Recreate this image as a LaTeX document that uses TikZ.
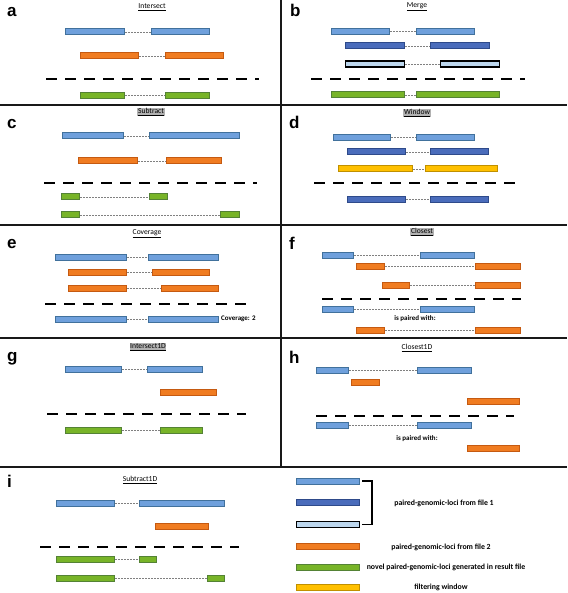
\documentclass[tikz,border=0pt]{standalone}
\usepackage{fontspec}
\setmainfont{Carlito}
\newfontfamily\panelfont{Liberation Sans}
\usetikzlibrary{positioning}

\definecolor{lblue}{HTML}{6FA0DC}
\definecolor{lblueline}{HTML}{41719C}
\definecolor{dblue}{HTML}{4A6CBB}
\definecolor{dblueline}{HTML}{2E4A8A}
\definecolor{pblue}{HTML}{BDD7EE}
\definecolor{oran}{HTML}{F07C21}
\definecolor{oranline}{HTML}{C55A11}
\definecolor{grn}{HTML}{78B428}
\definecolor{grnline}{HTML}{548235}
\definecolor{yell}{HTML}{FFC000}
\definecolor{yellline}{HTML}{C09000}

\tikzset{
    locus/.style={draw, line width=1pt, minimum height=6pt, inner sep=0pt, anchor=west},
    fileA/.style={locus, fill=lblue, draw=lblueline},
    fileAB/.style={locus, fill=dblue, draw=dblueline},
    fileAC/.style={locus, fill=pblue, draw=black, line width=1.1pt},
    fileB/.style={locus, fill=oran, draw=oranline},
    result/.style={locus, fill=grn, draw=grnline},
    window/.style={locus, fill=yell, draw=yellline},
    link/.style={black!50, line width=0.8pt, dash pattern=on 2pt off 1pt},
    cut/.style={line width=2.6pt, dash pattern=on 11pt off 8pt},
    frame/.style={line width=1.6pt, black!90},
    heavyframe/.style={line width=2.6pt, black!90},
    panel/.style={font=\panelfont\bfseries\fontsize{17}{17}\selectfont, anchor=base west, inner sep=0pt},
    title/.style={font=\fontsize{7.6}{9}\selectfont, inner sep=0.6pt},
    shaded/.style={title, fill=black!30},
    note/.style={font=\bfseries\fontsize{7}{8}\selectfont, inner sep=0pt},
    key/.style={font=\bfseries\fontsize{7.8}{9}\selectfont, inner sep=0pt}
}

% one locus: style, name, x from, x to, y
\newcommand{\locus}[5]{\node[#1, minimum width=#4-#3] (#2) at (#3,#5) {};}
% a pair of loci joined by a link: style, name, x1, x2, x3, x4, y
\newcommand{\pairloci}[7]{%
    \locus{#1}{#2l}{#3}{#4}{#7}
    \locus{#1}{#2r}{#5}{#6}{#7}
    \draw[link] (#2l.east) -- (#2r.west);}

\begin{document}
\begin{tikzpicture}[x=1pt, y=-1pt]
    \useasboundingbox (0,0) rectangle (567,593);
    % frames
    \draw[frame] (0,105) -- (567,105);
    \draw[frame] (0,225) -- (567,225);
    \draw[heavyframe] (0,338) -- (567,338);
    \draw[heavyframe] (0,467) -- (567,467);
    \draw[frame] (281,0) -- (281,467);
    % a
    \node[panel] (la) at (7,17) {a};
    \node[title] (ta) at (152,7) {\underline{Intersect}};
    \pairloci{fileA}{a1}{65}{124}{151}{209}{32}
    \pairloci{fileB}{a2}{80}{138}{165}{223}{56}
    \draw[cut] (46,79) -- (259,79);
    \pairloci{result}{a3}{80}{124}{165}{209}{95.5}
    % b
    \node[panel] (lb) at (290,17) {b};
    \node[title] (tb) at (417,7) {\underline{Merge}};
    \pairloci{fileA}{b1}{331}{389}{416}{474}{31.5}
    \pairloci{fileAB}{b2}{345}{404}{430}{489}{46}
    \pairloci{fileAC}{b3}{345}{404}{440}{499}{64}
    \draw[cut] (311,79) -- (525,79);
    \pairloci{result}{b4}{331}{404}{416}{499}{95}
    % c
    \node[panel] (lc) at (7,129) {c};
    \node[shaded] (tc) at (151,112) {\underline{Subtract}};
    \pairloci{fileA}{c1}{62}{123}{149}{239}{136}
    \pairloci{fileB}{c2}{78}{137}{166}{221}{161}
    \draw[cut] (44,183) -- (257,183);
    \pairloci{result}{c3}{61}{79}{149}{167}{197}
    \pairloci{result}{c4}{61}{79}{220}{239}{215}
    % d
    \node[panel] (ld) at (289,129) {d};
    \node[shaded] (td) at (417,113) {\underline{Window}};
    \pairloci{fileA}{d1}{333}{390}{416}{474}{137.5}
    \pairloci{fileAB}{d2}{347}{405}{430}{488}{152}
    \pairloci{window}{d3}{338}{412}{425}{497}{169}
    \draw[cut] (314,183) -- (522,183);
    \pairloci{fileAB}{d4}{347}{405}{430}{488}{199.5}
    % e
    \node[panel] (le) at (7,248) {e};
    \node[title] (te) at (147,234) {\underline{Coverage}};
    \pairloci{fileA}{e1}{55}{126}{148}{218}{257}
    \pairloci{fileB}{e2}{68}{126}{152}{209}{272}
    \pairloci{fileB}{e3}{68}{126}{161}{218}{288}
    \draw[cut] (45,304) -- (252,304);
    \pairloci{fileA}{e4}{55}{126}{148}{218}{319}
    \node[note, right=2pt of e4r] (ce) {Coverage: 2};
    % f
    \node[panel] (lf) at (289,250) {f};
    \node[shaded] (tf) at (422,232) {\underline{Closest}};
    \pairloci{fileA}{f1}{322}{353}{420}{474}{255}
    \pairloci{fileB}{f2}{356}{384}{475}{520}{266.5}
    \pairloci{fileB}{f3}{382}{409}{475}{520}{285}
    \draw[cut] (322,299) -- (521,299);
    \pairloci{fileA}{f4}{322}{353}{420}{474}{309}
    \node[note] (pf) at (415,319) {is paired with:};
    \pairloci{fileB}{f5}{356}{384}{475}{520}{330}
    % g
    \node[panel] (lg) at (7,361) {g};
    \node[shaded] (tg) at (148,347) {\underline{Intersect1D}};
    \pairloci{fileA}{g1}{65}{121}{147}{202}{369}
    \locus{fileB}{g2}{160}{216}{392}
    \draw[cut] (47,414) -- (246,414);
    \pairloci{result}{g3}{65}{121}{160}{202}{430}
    % h
    \node[panel] (lh) at (289,363) {h};
    \node[title] (th) at (417,348) {\underline{Closest1D}};
    \pairloci{fileA}{h1}{316}{348}{417}{471}{370.5}
    \locus{fileB}{h2}{351}{379}{382}
    \locus{fileB}{h3}{467}{519}{401}
    \draw[cut] (316,416) -- (514,416);
    \pairloci{fileA}{h4}{316}{348}{417}{471}{425.5}
    \node[note] (ph) at (417,439) {is paired with:};
    \locus{fileB}{h5}{467}{519}{448}
    % i
    \node[panel] (li) at (7,487) {i};
    \node[title] (ti) at (140,480) {\underline{Subtract1D}};
    \pairloci{fileA}{i1}{56}{114}{139}{224}{503}
    \locus{fileB}{i2}{155}{208}{526}
    \draw[cut] (40,547) -- (239,547);
    \pairloci{result}{i3}{56}{114}{139}{156}{559}
    \pairloci{result}{i4}{56}{114}{207}{224}{578}
    % legend
    \locus{fileA}{k1}{296}{359}{481}
    \locus{fileAB}{k2}{296}{359}{502}
    \locus{fileAC}{k3}{296}{359}{524.5}
    \locus{fileB}{k4}{296}{359}{546}
    \locus{result}{k5}{296}{359}{567}
    \locus{window}{k6}{296}{359}{587}
    \draw[line width=1.8pt] ([xshift=2pt]k1.east) -| ([xshift=12pt]k3.east) -- ([xshift=2pt]k3.east);
    \node[key] (n1) at (444,503) {paired-genomic-loci from file 1};
    \node[key] (n2) at (441,547) {paired-genomic-loci from file 2};
    \node[key] (n3) at (446,567) {novel paired-genomic-loci generated in result file};
    \node[key] (n4) at (441,587) {filtering window};
\end{tikzpicture}
\end{document}
